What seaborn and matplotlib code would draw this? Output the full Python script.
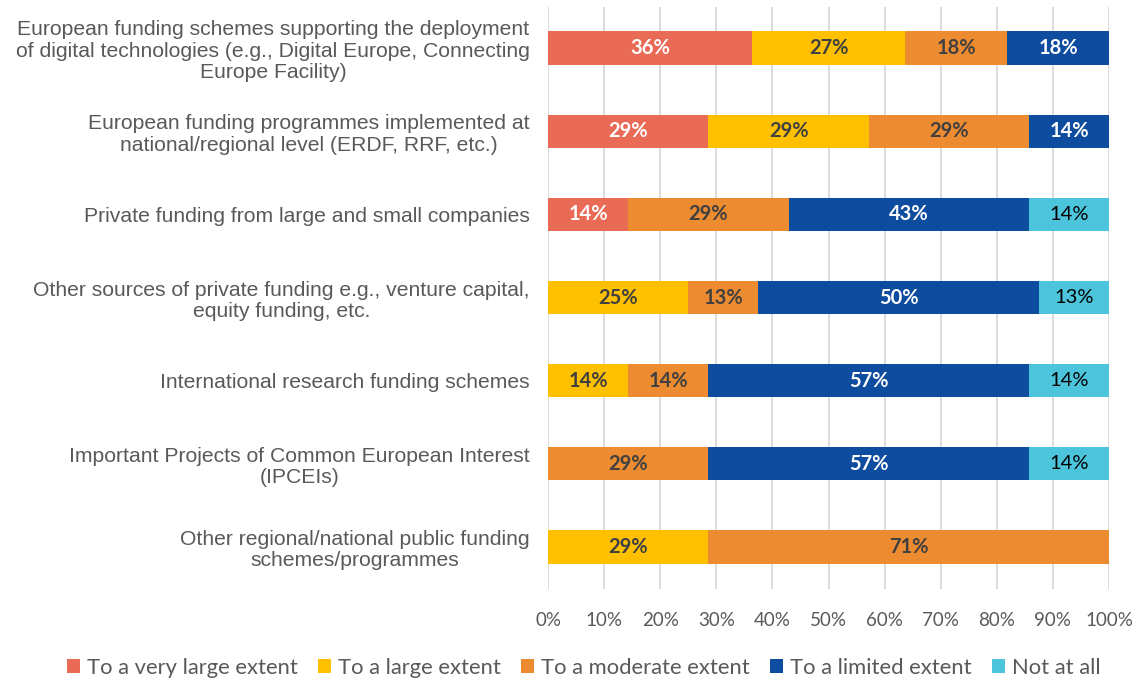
import matplotlib
matplotlib.use("Agg")
import matplotlib.pyplot as plt
import seaborn as sns
import pandas as pd
import numpy as np
from matplotlib.patches import Patch

# Funding sources (one row per bar, top to bottom)
sources = [
    "European funding schemes supporting the deployment\nof digital technologies (e.g., Digital Europe, Connecting\nEurope Facility)",
    "European funding programmes implemented at\nnational/regional level (ERDF, RRF, etc.)",
    "Private funding from large and small companies",
    "Other sources of private funding e.g., venture capital,\nequity funding, etc.",
    "International research funding schemes",
    "Important Projects of Common European Interest\n(IPCEIs)",
    "Other regional/national public funding\nschemes/programmes",
]

levels = ["To a very large extent", "To a large extent", "To a moderate extent",
          "To a limited extent", "Not at all"]

# Share of respondents (%) per level
very_large = [36.4, 28.6, 14.3, 0.0, 0.0, 0.0, 0.0]
large = [27.3, 28.6, 0.0, 25.0, 14.3, 0.0, 28.6]
moderate = [18.2, 28.6, 28.6, 12.5, 14.3, 28.6, 71.4]
limited = [18.2, 14.3, 42.9, 50.0, 57.1, 57.1, 0.0]
not_at_all = [0.0, 0.0, 14.3, 12.5, 14.3, 14.3, 0.0]

series = [very_large, large, moderate, limited, not_at_all]
colors = ["#E96B55", "#FFC000", "#ED8B30", "#0D4C9E", "#4BC4DC"]
label_colors = ["white", "#404040", "#404040", "white", "black"]
label_weights = ["bold", "bold", "bold", "bold", "normal"]


def pct(v):
    # round half up, as in spreadsheet percentage formatting
    return f"{int(np.floor(v + 0.5))}%"


sns.set_theme(style="white")
plt.rcParams["font.family"] = ["Lato", "DejaVu Sans"]

fig = plt.figure(figsize=(11.42, 6.82), dpi=100)
ax = fig.add_axes([548 / 1142, 1 - 588.5 / 682, 561 / 1142, 582 / 682])

cum = np.zeros(len(sources))
cums = []
for s in series:
    cum = cum + np.array(s)
    cums.append(cum.copy())

# Stacked bars: draw cumulative totals from the outermost layer inward
for i in range(len(series) - 1, -1, -1):
    d = pd.DataFrame({"source": sources, "value": cums[i]})
    sns.barplot(data=d, x="value", y="source", orient="h", color=colors[i],
                saturation=1, width=0.4, ax=ax, zorder=2, edgecolor="none")

# Segment labels
for i, s in enumerate(series):
    starts = cums[i] - np.array(s)
    for r, v in enumerate(s):
        if v <= 0:
            continue
        ax.text(starts[r] + v / 2, r, pct(v), ha="center", va="center",
                color=label_colors[i], fontsize=14.5, fontweight=label_weights[i],
                zorder=3)

ax.set_xlim(0, 100)
ax.set_ylim(len(sources) - 0.5, -0.5)
ax.set_xticks(np.arange(0, 101, 10))
ax.set_xticklabels([f"{t}%" for t in range(0, 101, 10)], fontsize=13.5, color="#595959")
ax.set_yticks(range(len(sources)))
ax.set_yticklabels(sources, fontsize=15.2, color="#595959", family="Liberation Sans",
                   multialignment="center", linespacing=1.17)
ax.tick_params(axis="y", length=0, pad=13)
ax.tick_params(axis="x", length=0, pad=17)
ax.set_xlabel("")
ax.set_ylabel("")
ax.grid(axis="x", color="#D9D9D9", linewidth=1.3, zorder=0)
ax.set_axisbelow(True)
for sp in ax.spines.values():
    sp.set_visible(False)

handles = [Patch(facecolor=c, edgecolor="none") for c in colors]
fig.legend(handles, levels, loc="center", bbox_to_anchor=(0.511, 1 - 668 / 682), ncol=5,
           frameon=False, fontsize=15.8, handlelength=0.6, handleheight=0.6,
           handletextpad=0.3, columnspacing=0.93, labelcolor="#595959")

fig.savefig("out.png", dpi=100)
